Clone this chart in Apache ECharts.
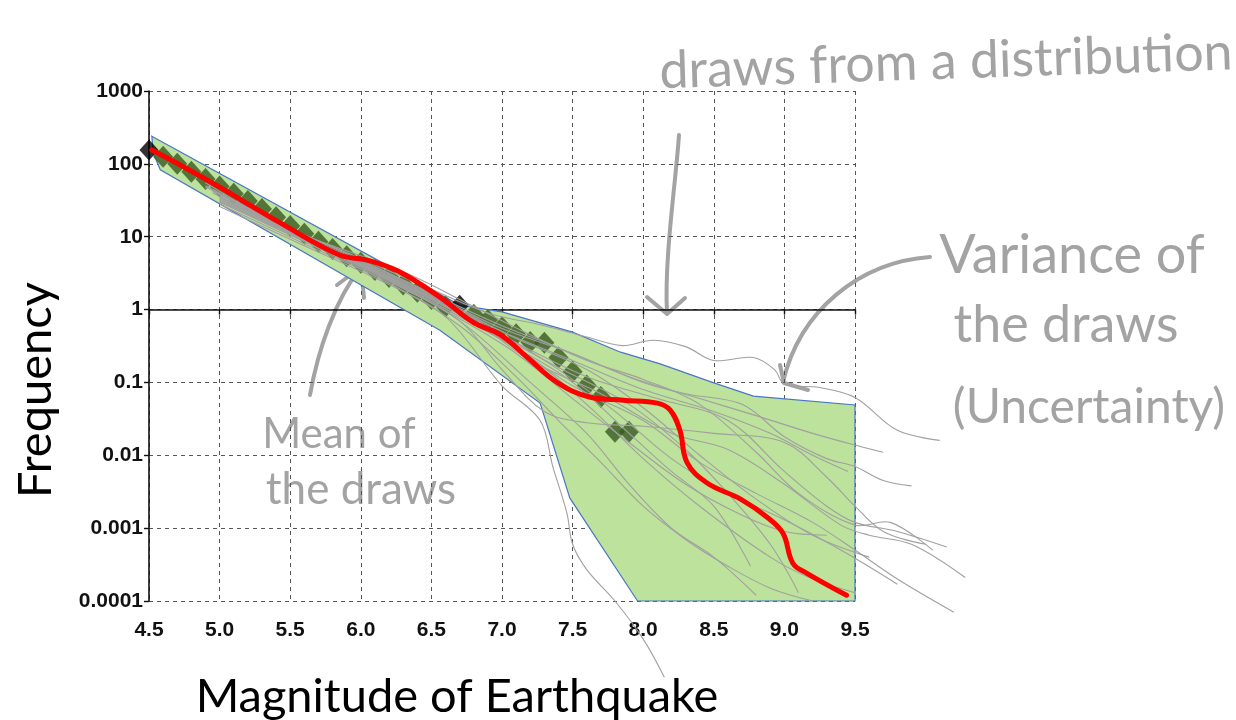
<!DOCTYPE html>
<html>
<head>
<meta charset="utf-8">
<script src="https://cdn.jsdelivr.net/npm/echarts@6/dist/echarts.min.js"></script>
<style>
  html, body { margin: 0; padding: 0; background: #fff; }
  #chart { width: 1236px; height: 720px; }
</style>
</head>
<body>
<div id="chart"></div>
<script>
// ---- tick labels ----
const freqTickLabels = ['0.0001', '0.001', '0.01', '0.1', '1', '10', '100', '1000'];

// ---- observed catalogue (magnitude, annual frequency) ----
const observedBlack = [[4.5, 155], [6.7, 1.15]];
const observedGreen = [
  [4.6, 125], [4.7, 100], [4.8, 78], [4.9, 62], [5.0, 49], [5.1, 39], [5.2, 31],
  [5.3, 24], [5.4, 18.5], [5.5, 14], [5.6, 11], [5.7, 8.5], [5.8, 6.8], [5.9, 5.4],
  [6.0, 4.4], [6.1, 3.5], [6.2, 2.8], [6.3, 2.2], [6.4, 1.75], [6.5, 1.4], [6.6, 1.1],
  [6.8, 0.85], [6.9, 0.72], [7.0, 0.57], [7.1, 0.46], [7.2, 0.36], [7.3, 0.35],
  [7.4, 0.22], [7.5, 0.14], [7.6, 0.091], [7.7, 0.063], [7.8, 0.021], [7.9, 0.021]
];

// ---- envelope of the draws ----
const bandUpper = [
  [4.52, 240], [6.7, 1.15], [7.0, 0.93], [7.5, 0.49], [7.84, 0.26],
  [8.12, 0.18], [8.49, 0.1], [8.78, 0.065], [9.5, 0.049]
];
const bandLower = [
  [4.53, 141], [4.58, 83], [6.56, 0.52], [7.27, 0.052], [7.48, 0.0026],
  [7.96, 0.0001], [9.5, 0.0001]
];

// ---- mean of the draws ----
const meanOfDraws = [
  [4.52, 155], [4.75, 90], [5.0, 48], [5.43, 15.5], [5.85, 5.6], [6.04, 4.8],
  [6.26, 3.4], [6.56, 1.48], [6.8, 0.66], [6.99, 0.45], [7.18, 0.22], [7.39, 0.1],
  [7.62, 0.063], [7.86, 0.057], [8.1, 0.052], [8.19, 0.042], [8.26, 0.022],
  [8.31, 0.008], [8.45, 0.0042], [8.69, 0.0025], [8.88, 0.0014], [8.99, 0.00085],
  [9.06, 0.00033], [9.16, 0.00024], [9.44, 0.00012]
];

// ---- individual draws ----
const draw01 = [[4.95, 45], [5.5, 13], [6.0, 5], [6.5, 1.9], [6.9, 0.9], [7.3, 0.6], [7.6, 0.42], [7.85, 0.32], [8.07, 0.38], [8.3, 0.31], [8.5, 0.2], [8.78, 0.22], [8.93, 0.15], [9.0, 0.095], [9.25, 0.085], [9.5, 0.062], [9.8, 0.022], [10.1, 0.016]];
const draw02 = [[4.9, 55], [5.5, 12], [6.1, 3.8], [6.6, 1.3], [7.0, 0.55], [7.5, 0.25], [8.0, 0.1], [8.3, 0.07], [8.7, 0.05], [9.0, 0.018], [9.3, 0.009], [9.5, 0.007], [9.7, 0.0045], [9.9, 0.0038]];
const draw03 = [[5.0, 35], [5.6, 9.5], [6.2, 2.8], [6.7, 0.9], [7.1, 0.35], [7.6, 0.12], [8.1, 0.06], [8.6, 0.03], [9.0, 0.006], [9.3, 0.002], [9.5, 0.0012], [9.8, 0.0009], [10.15, 0.00055]];
const draw04 = [[5.1, 28], [5.7, 7.5], [6.3, 2.2], [6.8, 0.7], [7.2, 0.2], [7.7, 0.07], [8.2, 0.02], [8.6, 0.012], [9.0, 0.004], [9.4, 0.0011], [9.6, 0.0008], [9.9, 0.0006], [10.28, 0.00021]];
const draw05 = [[5.0, 32], [5.6, 9], [6.2, 2.7], [6.7, 0.85], [7.1, 0.3], [7.5, 0.09], [8.0, 0.03], [8.4, 0.008], [8.8, 0.003], [9.2, 0.0012], [9.5, 0.0005], [9.8, 0.0002], [10.2, 0.00007]];
const draw06 = [[4.9, 50], [5.5, 12], [6.1, 3.6], [6.6, 1.2], [7.0, 0.45], [7.4, 0.15], [7.8, 0.04], [8.2, 0.009], [8.6, 0.003], [9.0, 0.0013], [9.4, 0.0005], [9.8, 0.00017]];
const draw07 = [[5.0, 36], [5.6, 10], [6.2, 3], [6.7, 1], [7.1, 0.4], [7.6, 0.15], [8.0, 0.045], [8.4, 0.01], [8.8, 0.0025], [9.2, 0.0008], [9.6, 0.0004]];
const draw08 = [[4.95, 42], [5.5, 12.5], [6.0, 4.4], [6.5, 1.5], [7.0, 0.5], [7.5, 0.2], [8.0, 0.08], [8.5, 0.04], [8.9, 0.02], [9.2, 0.01], [9.45, 0.006]];
const draw09 = [[5.0, 30], [5.6, 9], [6.2, 2.5], [6.7, 0.75], [7.1, 0.25], [7.5, 0.06], [7.9, 0.015], [8.3, 0.004], [8.7, 0.0015], [9.0, 0.0009], [9.3, 0.0008]];
const draw10 = [[5.05, 30], [5.6, 9.5], [6.2, 2.6], [6.7, 0.8], [7.2, 0.22], [7.6, 0.05], [8.0, 0.009], [8.4, 0.002], [8.9, 0.0004], [9.2, 0.0002], [9.5, 0.00013]];
const draw11 = [[5.0, 26], [5.6, 7.5], [6.2, 2.2], [6.6, 0.8], [7.0, 0.09], [7.27, 0.03], [7.36, 0.007], [7.46, 0.0016], [7.5, 0.0006], [7.6, 0.00027], [7.8, 0.0001], [8.0, 0.00003], [8.15, 0.000009]];
const draw12 = [[5.0, 33], [5.6, 9.2], [6.2, 2.6], [6.7, 0.8], [7.1, 0.3], [7.5, 0.1], [7.9, 0.02], [8.2, 0.006], [8.5, 0.002], [8.76, 0.0003]];
const draw13 = [[4.95, 40], [5.5, 11.5], [6.1, 3.4], [6.6, 1.1], [7.0, 0.42], [7.4, 0.16], [7.9, 0.05], [8.3, 0.012], [8.6, 0.003], [8.9, 0.0006], [9.1, 0.00013]];
const draw14 = [[4.9, 48], [5.5, 13], [6.1, 3.9], [6.6, 1.35], [7.0, 0.6], [7.4, 0.3], [7.9, 0.12], [8.4, 0.06], [8.8, 0.035], [9.2, 0.02], [9.55, 0.013], [9.7, 0.011]];
const draw15 = [[5.0, 30], [5.6, 8.5], [6.2, 2.4], [6.7, 0.7], [7.0, 0.15], [7.3, 0.04], [7.6, 0.028], [8.0, 0.025], [8.5, 0.02], [9.0, 0.015], [9.3, 0.005], [9.5, 0.002], [9.7, 0.0009], [10.0, 0.0006]];
const draw16 = [[5.0, 28], [5.6, 8], [6.2, 2.3], [6.7, 0.6], [7.1, 0.12], [7.4, 0.03], [7.7, 0.008], [8.0, 0.002], [8.3, 0.0007], [8.6, 0.0003], [8.9, 0.00015], [9.2, 0.0001]];
const draw17 = [[5.0, 31], [5.6, 8.8], [6.2, 2.5], [6.7, 0.7], [7.2, 0.1], [7.6, 0.02], [7.9, 0.004], [8.2, 0.001], [8.5, 0.0004], [8.8, 0.00012]];
const draw18 = [[5.0, 34], [5.6, 10.5], [6.3, 3.3], [6.8, 1.1], [7.2, 0.45], [7.6, 0.2], [8.0, 0.11], [8.4, 0.05], [8.8, 0.011], [9.1, 0.003], [9.5, 0.0011], [9.75, 0.0012], [10.05, 0.0005]];
const draws = [draw01, draw02, draw03, draw04, draw05, draw06, draw07, draw08, draw09,
               draw10, draw11, draw12, draw13, draw14, draw15, draw16, draw17, draw18];

// ---- styling ----
const GRID = { left: 149, top: 91, width: 706, height: 510 };
const NOTE = '#a3a3a3';
const dashed = { color: '#555', width: 1, type: [4, 4] };

const chart = echarts.init(document.getElementById('chart'));

function noteText(x, y, text, size, rot) {
  return {
    type: 'text', silent: true, x: x, y: y, rotation: rot || 0,
    style: { text: text, fill: NOTE, font: size + 'px Lato, sans-serif', align: 'center', verticalAlign: 'middle' }
  };
}
function noteStroke(type, shape) {
  return {
    type: type, silent: true, shape: shape,
    style: { stroke: NOTE, lineWidth: 4, fill: null, lineCap: 'round', lineJoin: 'round' }
  };
}

chart.setOption({
  animation: false,
  grid: GRID,
  xAxis: [
    {
      type: 'value', min: 4.5, max: 9.5, interval: 0.5,
      axisLine: { show: false }, axisTick: { show: false },
      splitLine: { show: true, lineStyle: dashed },
      axisLabel: {
        margin: 19, fontSize: 21, fontWeight: 'bold', color: '#111',
        fontFamily: 'Liberation Sans', formatter: v => v.toFixed(1)
      }
    },
    {
      // horizontal axis crossing at frequency 1
      type: 'value', min: 4.5, max: 9.5, interval: 0.5, position: 'bottom',
      offset: -GRID.height * 4 / 7,
      axisLine: { show: true, lineStyle: { color: '#111', width: 1.6 } },
      axisTick: { show: true, length: 5, lineStyle: { color: '#111', width: 1.4 } },
      axisLabel: { show: false }, splitLine: { show: false }
    }
  ],
  yAxis: {
    type: 'log', logBase: 10, min: 0.0001, max: 1000, splitNumber: 7,
    axisLine: { show: true, lineStyle: { color: '#111', width: 1.6 } },
    axisTick: { show: true, length: 5, lineStyle: { color: '#111', width: 1.4 } },
    splitLine: { show: true, lineStyle: dashed },
    axisLabel: {
      margin: 6, fontSize: 21, fontWeight: 'bold', color: '#111', fontFamily: 'Liberation Sans',
      formatter: v => freqTickLabels[Math.round(Math.log10(v)) + 4]
    }
  },
  series: [
    {
      // shaded envelope
      type: 'custom', silent: true, z: 1, clip: false,
      data: [[bandUpper[0][0], bandUpper[0][1]]],
      renderItem: (params, api) => {
        const pts = bandUpper.concat(bandLower.slice().reverse()).map(p => api.coord(p));
        return {
          type: 'polygon', shape: { points: pts },
          style: { fill: '#bde29b', stroke: '#4a76c6', lineWidth: 1.2 }
        };
      }
    },
    {
      type: 'scatter', data: observedBlack, symbol: 'diamond', symbolSize: [19, 21],
      itemStyle: { color: '#000' }, clip: false, z: 2, silent: true
    },
    {
      type: 'scatter', data: observedGreen, symbol: 'diamond', symbolSize: [20, 22],
      itemStyle: { color: '#385a21' }, clip: false, z: 3, silent: true
    },
    {
      // thin curves, one per draw; they run past the right edge of the plot
      type: 'custom', silent: true, z: 4, clip: false,
      data: draws.map((d, i) => [d[0][0], d[0][1], i]),
      renderItem: (params, api) => {
        const d = draws[params.dataIndex];
        return {
          type: 'polyline',
          shape: { points: d.map(p => api.coord(p)), smooth: 0.35 },
          style: { stroke: '#a0a0a0', lineWidth: 1.1, fill: null }
        };
      }
    },
    {
      type: 'line', data: meanOfDraws, smooth: 0.4, symbol: 'none', z: 6, silent: true,
      lineStyle: { color: '#ff0000', width: 5, cap: 'round', join: 'round' }
    }
  ],
  graphic: [
    // axis titles
    {
      type: 'text', silent: true, x: 36, y: 390, rotation: Math.PI / 2,
      style: { text: 'Frequency', fill: '#000', font: '47px Lato, sans-serif', align: 'center', verticalAlign: 'middle' }
    },
    {
      type: 'text', silent: true, x: 457, y: 697,
      style: { text: 'Magnitude of Earthquake', fill: '#000', font: '47px Lato, sans-serif', align: 'center', verticalAlign: 'middle' }
    },
    // annotations
    noteText(946, 62, 'draws from a distribution', 52, 0.033),
    noteText(1072, 256, 'Variance of', 54),
    noteText(1066, 325, 'the draws', 52),
    noteText(1089, 408, '(Uncertainty)', 48),
    noteText(339, 434, 'Mean of', 42),
    noteText(361, 490, 'the draws', 44),
    // arrows
    noteStroke('bezierCurve', { x1: 679, y1: 135, x2: 667, y2: 313, cpx1: 676, cpy1: 180, cpx2: 664, cpy2: 260 }),
    noteStroke('polyline', { points: [[647, 297], [667, 314], [685, 298]] }),
    noteStroke('bezierCurve', { x1: 930, y1: 257, x2: 783, y2: 382, cpx1: 860, cpy1: 262, cpx2: 800, cpy2: 310 }),
    noteStroke('polyline', { points: [[780, 365], [784, 383], [808, 390]] }),
    noteStroke('bezierCurve', { x1: 310, y1: 395, x2: 361, y2: 267, cpx1: 318, cpy1: 350, cpx2: 335, cpy2: 300 }),
    noteStroke('polyline', { points: [[337, 285], [361, 267], [364, 298]] })
  ]
});
</script>
</body>
</html>
